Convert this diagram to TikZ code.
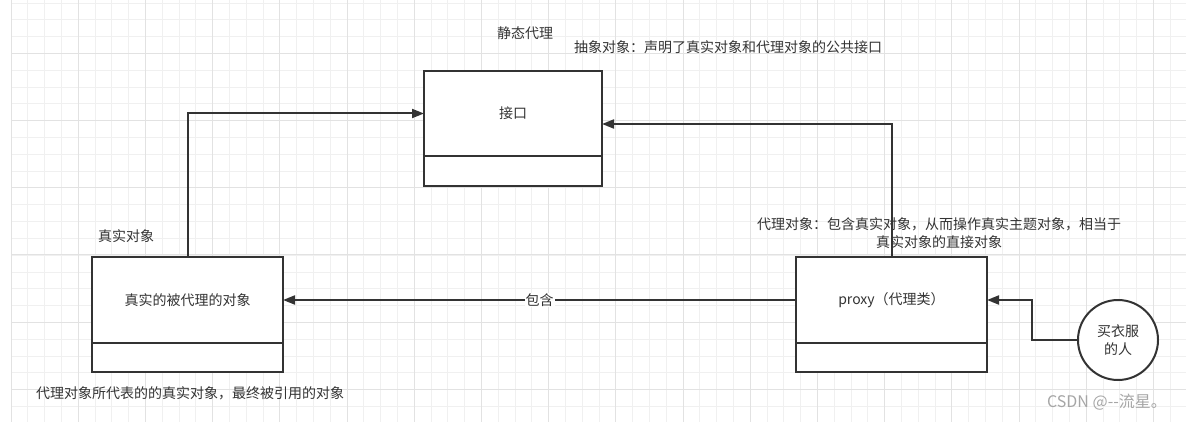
\documentclass[tikz,border=0pt]{standalone}
\usepackage{fontspec}
\setmainfont{Noto Sans CJK SC}
\usetikzlibrary{arrows.meta,positioning}
\definecolor{ink}{HTML}{333333}
\definecolor{gridminor}{HTML}{F0F0F0}
\definecolor{gridmajor}{HTML}{E2E2E2}
\tikzset{
  classbox/.style={draw=ink, line width=2pt, fill=white, minimum width=191, minimum height=86,
    outer sep=0pt, inner sep=0pt, text=ink, font=\fontsize{14}{16}\selectfont},
  slotbox/.style={draw=ink, line width=2pt, fill=white, minimum width=191, minimum height=29,
    outer sep=0pt, inner sep=0pt},
  link/.style={draw=ink, line width=2pt, -{Triangle[length=12pt,width=9pt]}},
  lbl/.style={text=ink, inner sep=1pt, font=\fontsize{14}{18}\selectfont}
}
\begin{document}
\begin{tikzpicture}[x=1pt, y=-1pt]
  \useasboundingbox (0,0) rectangle (1186,422);
  \fill[white] (0,0) rectangle (1186,422);
  % grid
  \foreach \i in {0,...,69} {
    \draw[gridminor, line width=1pt] (11+16.8*\i,0) -- (11+16.8*\i,422);
  }
  \foreach \j in {0,...,25} {
    \draw[gridminor, line width=1pt] (11,3.2+16.8*\j) -- (1186,3.2+16.8*\j);
  }
  \foreach \i in {0,...,17} {
    \draw[gridmajor, line width=1pt] (11+67.2*\i,0) -- (11+67.2*\i,422);
  }
  \foreach \j in {0,...,6} {
    \draw[gridmajor, line width=1pt] (11,-14+67.2*\j) -- (1186,-14+67.2*\j);
  }

  % classes
  \node[classbox, minimum width=178, minimum height=85] (iface) at (513,113.5) {接口};
  \node[slotbox, minimum width=178, minimum height=30, below=0pt of iface] (ifaceslot) {};
  \node[classbox] (real) at (187.5,300) {真实的被代理的对象};
  \node[slotbox, below=0pt of real] (realslot) {};
  \node[classbox] (proxy) at (891.5,300) {proxy（代理类）};
  \node[slotbox, below=0pt of proxy] (proxyslot) {};
  \node[circle, draw=ink, line width=2pt, fill=white, minimum size=80, inner sep=0pt,
    text=ink, align=center, font=\fontsize{14}{18}\selectfont] (buyer) at (1118,340) {买衣服\\的人};

  % texts
  \node[lbl] (title) at (525,33) {静态代理};
  \node[lbl] (ifacenote) at (728,47) {抽象对象：声明了真实对象和代理对象的公共接口};
  \node[lbl] (realtitle) at (126,236) {真实对象};
  \node[lbl] (realnote) at (190,393) {代理对象所代表的的真实对象，最终被引用的对象};
  \node[lbl, align=center] (proxynote) at (939,233) {代理对象：包含真实对象，从而操作真实主题对象，相当于\\真实对象的直接对象};
  \node[text=black!35, font=\fontsize{16}{18}\selectfont] (mark) at (1107,402) {CSDN @{-}{-}流星。};

  % connectors
  \draw[link] (real.north) |- (iface.west);
  \draw[link] (proxy.north) |- ([yshift=-10.5pt]iface.east);
  \draw[link] (proxy.west) -- node[lbl, fill=white] (contains) {包含} (real.east);
  \draw[link] (buyer.west) -- ++(-45,0) |- (proxy.east);
\end{tikzpicture}
\end{document}
